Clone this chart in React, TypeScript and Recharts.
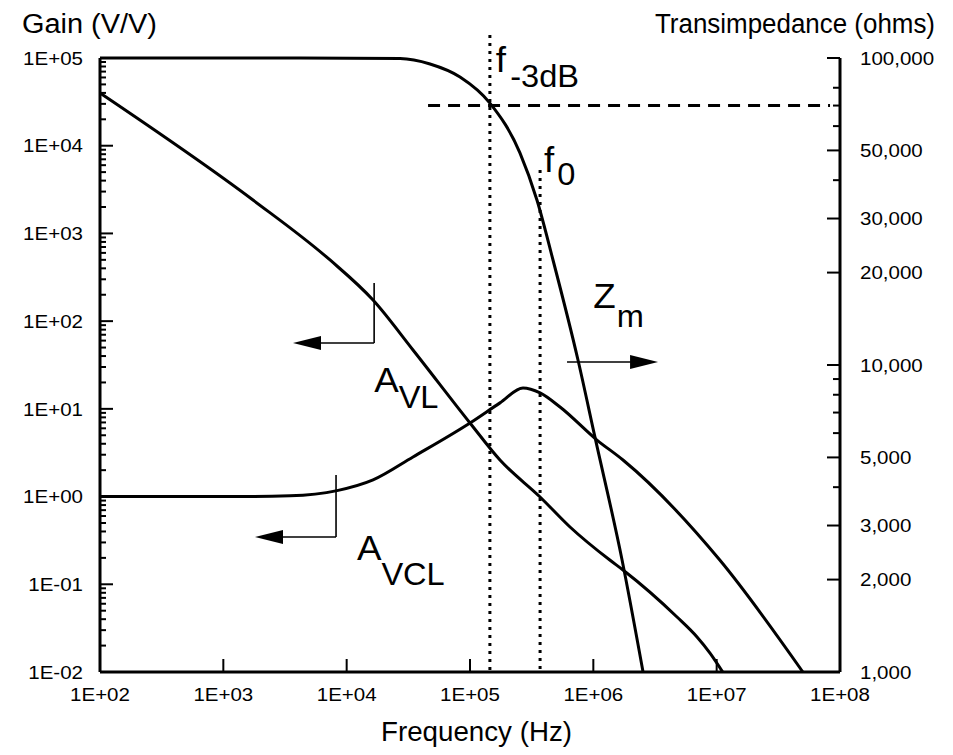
import React from 'react';
import { ComposedChart, Line, XAxis, YAxis, ReferenceLine, ReferenceDot } from 'recharts';

const FONT = '"Liberation Sans", Arial, Helvetica, sans-serif';
const SX = 1.08;
const TICK_FS = 19;

// ---- axis ticks ----
const xTicks = [1e2, 1e3, 1e4, 1e5, 1e6, 1e7, 1e8];
const xTickLabels = ['1E+02', '1E+03', '1E+04', '1E+05', '1E+06', '1E+07', '1E+08'];

const gainMajor = [1e-2, 1e-1, 1, 1e1, 1e2, 1e3, 1e4, 1e5];
const gainMajorLabels = ['1E-02', '1E-01', '1E+00', '1E+01', '1E+02', '1E+03', '1E+04', '1E+05'];
const minorMultipliers = [2, 3, 4, 5, 6, 7, 8, 9];
const gainMinor = gainMajor.slice(0, -1).flatMap((d) => minorMultipliers.map((m) => d * m));

const zMajor = [1000, 2000, 3000, 5000, 10000, 20000, 30000, 50000, 100000];
const zMajorLabels = ['1,000', '2,000', '3,000', '5,000', '10,000', '20,000', '30,000', '50,000', '100,000'];
const zMinor = [4000, 6000, 7000, 8000, 9000, 40000, 60000, 70000, 80000];

// ---- series ----
const avlFreq = [100, 1740, 7330, 16360, 34500, 1.0e5, 1.75e5, 3.7e5, 6.47e5, 1.36e6, 1.74e6, 4.77e6, 6.93e6, 8.83e6, 1.12e7];
const avlGain = [39900, 2404, 498, 174, 46.9, 6.9, 2.61, 0.99, 0.45, 0.189, 0.1456, 0.0424, 0.0251, 0.01644, 0.01];

const avclFreq = [100, 1365, 3470, 8360, 16370, 34500, 1.0e5, 1.75e5, 2.69e5, 3.7e5, 5.37e5, 1.07e6, 1.74e6, 1.06e7, 5.0e7];
const avclGain = [1.0, 1.0, 1.02, 1.17, 1.55, 2.83, 6.9, 11.7, 17.3, 15.2, 10.5, 4.41, 2.61, 0.189, 0.01];

const zmFreq = [100, 4190, 27100, 47400, 83000, 1.45e5, 2.54e5, 3.49e5, 4.71e5, 7.51e5, 1.03e6, 1.71e6, 2.53e6];
const zmOhms = [100000, 100000, 99600, 95600, 86700, 71300, 49100, 34470, 21980, 10380, 5830, 2317, 1000];

// ---- markers ----
const f3dB = 1.45e5;
const f0 = 3.7e5;
const halfPowerZ = 70000;

const toData = (fs: number[], vs: number[]) => fs.map((f, i) => ({ f, v: vs[i] }));
const avlData = toData(avlFreq, avlGain);
const avclData = toData(avclFreq, avclGain);
const zmData = toData(zmFreq, zmOhms);

const isIn = (arr: number[], v: number) => arr.findIndex((t) => Math.abs(Math.log10(t) - Math.log10(v)) < 1e-6);

const LeftTick = (props: any) => {
  const { x, y, payload } = props;
  const idx = isIn(gainMajor, payload.value);
  const major = idx >= 0;
  return (
    <g>
      <line x1={x} y1={y} x2={x + (major ? 13 : 6)} y2={y} stroke="#000" strokeWidth={2} />
      {major && (
        <text transform={`translate(${x - 17},${y}) scale(${SX},1)`} textAnchor="end" dominantBaseline="central" fontSize={TICK_FS} fontFamily={FONT} fill="#000">
          {gainMajorLabels[idx]}
        </text>
      )}
    </g>
  );
};

const RightTick = (props: any) => {
  const { x, y, payload } = props;
  const idx = isIn(zMajor, payload.value);
  const major = idx >= 0;
  return (
    <g>
      <line x1={x} y1={y} x2={x - (major ? 13 : 7)} y2={y} stroke="#000" strokeWidth={2} />
      {major && (
        <text transform={`translate(${x + 20},${y}) scale(${SX},1)`} textAnchor="start" dominantBaseline="central" fontSize={TICK_FS} fontFamily={FONT} fill="#000">
          {zMajorLabels[idx]}
        </text>
      )}
    </g>
  );
};

const BottomTick = (props: any) => {
  const { x, y, payload } = props;
  const idx = isIn(xTicks, payload.value);
  return (
    <g>
      <line x1={x} y1={y} x2={x} y2={y - 13} stroke="#000" strokeWidth={2} />
      <text transform={`translate(${x},${y + 29}) scale(${SX},1)`} textAnchor="middle" fontSize={TICK_FS} fontFamily={FONT} fill="#000">
        {xTickLabels[idx]}
      </text>
    </g>
  );
};

const makeLabel = (main: string, sub: string, subDx: number, subDy: number) => (props: any) => {
  const { cx, cy } = props;
  return (
    <text transform={`translate(${cx},${cy}) scale(1.05,1)`} fontSize={35} fontFamily={FONT} fill="#000">
      <tspan>{main}</tspan>
      <tspan dx={subDx} dy={subDy} fontSize={31}>{sub}</tspan>
    </text>
  );
};

const arrowHead = (dir: number) => (props: any) => {
  const { cx, cy } = props;
  const L = 28;
  const H = 7;
  return <polygon points={`${cx},${cy} ${cx - dir * L},${cy - H} ${cx - dir * L},${cy + H}`} fill="#000" />;
};

const arrowStroke = { stroke: '#000', strokeWidth: 1.6 };

export default function App() {
  return (
    <div style={{ position: 'absolute', left: 0, top: 0, width: 953, height: 755, background: '#fff' }}>
      <ComposedChart width={953} height={755} margin={{ top: 58, right: 0, bottom: 0, left: 0 }}>
        <XAxis
          dataKey="f"
          type="number"
          scale="log"
          domain={[100, 1e8]}
          ticks={xTicks}
          interval={0}
          height={83}
          tickSize={0}
          tickMargin={0}
          tickLine={false}
          axisLine={{ stroke: '#000', strokeWidth: 3 }}
          tick={<BottomTick />}
        />
        <YAxis
          yAxisId="left"
          orientation="left"
          type="number"
          scale="log"
          domain={[0.01, 1e5]}
          ticks={[...gainMajor, ...gainMinor]}
          interval={0}
          width={100}
          tickSize={0}
          tickMargin={0}
          tickLine={false}
          axisLine={{ stroke: '#000', strokeWidth: 3 }}
          tick={<LeftTick />}
        />
        <YAxis
          yAxisId="right"
          orientation="right"
          type="number"
          scale="log"
          domain={[1000, 100000]}
          ticks={[...zMajor, ...zMinor]}
          interval={0}
          width={113}
          tickSize={0}
          tickMargin={0}
          tickLine={false}
          axisLine={{ stroke: '#000', strokeWidth: 3 }}
          tick={<RightTick />}
        />

        {/* -3dB level and marker frequencies */}
        <ReferenceLine
          yAxisId="right"
          segment={[{ x: 45700, y: halfPowerZ }, { x: 8.3e7, y: halfPowerZ }]}
          stroke="#000"
          strokeWidth={3}
          strokeDasharray="12 8"
          ifOverflow="visible"
        />
        <ReferenceLine
          yAxisId="left"
          segment={[{ x: f3dB, y: 1.83e5 }, { x: f3dB, y: 0.01 }]}
          stroke="#000"
          strokeWidth={3}
          strokeDasharray="3 5"
          ifOverflow="visible"
        />
        <ReferenceLine
          yAxisId="left"
          segment={[{ x: f0, y: 5280 }, { x: f0, y: 0.01 }]}
          stroke="#000"
          strokeWidth={3}
          strokeDasharray="3 5"
          ifOverflow="visible"
        />

        <Line data={zmData} dataKey="v" yAxisId="right" type="monotone" stroke="#000" strokeWidth={3} dot={false} isAnimationActive={false} />
        <Line data={avlData} dataKey="v" yAxisId="left" type="monotone" stroke="#000" strokeWidth={3} dot={false} isAnimationActive={false} />
        <Line data={avclData} dataKey="v" yAxisId="left" type="monotone" stroke="#000" strokeWidth={3} dot={false} isAnimationActive={false} />

        {/* A_VL pointer */}
        <ReferenceLine yAxisId="left" segment={[{ x: 16700, y: 272 }, { x: 16700, y: 56.3 }]} {...arrowStroke} ifOverflow="visible" />
        <ReferenceLine yAxisId="left" segment={[{ x: 16700, y: 56.3 }, { x: 5000, y: 56.3 }]} {...arrowStroke} ifOverflow="visible" />
        <ReferenceDot yAxisId="left" x={3670} y={56.3} shape={arrowHead(-1)} ifOverflow="visible" />

        {/* A_VCL pointer */}
        <ReferenceLine yAxisId="left" segment={[{ x: 8200, y: 1.76 }, { x: 8200, y: 0.346 }]} {...arrowStroke} ifOverflow="visible" />
        <ReferenceLine yAxisId="left" segment={[{ x: 8200, y: 0.346 }, { x: 2500, y: 0.346 }]} {...arrowStroke} ifOverflow="visible" />
        <ReferenceDot yAxisId="left" x={1807} y={0.346} shape={arrowHead(-1)} ifOverflow="visible" />

        {/* Z_m pointer */}
        <ReferenceLine yAxisId="right" segment={[{ x: 6.12e5, y: 10230 }, { x: 2.5e6, y: 10230 }]} {...arrowStroke} ifOverflow="visible" />
        <ReferenceDot yAxisId="right" x={3.35e6} y={10230} shape={arrowHead(1)} ifOverflow="visible" />

        {/* labels */}
        <ReferenceDot yAxisId="left" x={1.62e5} y={69200} shape={makeLabel('f', '-3dB', 4, 15)} ifOverflow="visible" />
        <ReferenceDot yAxisId="left" x={3.98e5} y={5010} shape={makeLabel('f', '0', 3, 13)} ifOverflow="visible" />
        <ReferenceDot yAxisId="left" x={1.0e6} y={141} shape={makeLabel('Z', 'm', 1, 19)} ifOverflow="visible" />
        <ReferenceDot yAxisId="left" x={16700} y={15.6} shape={makeLabel('A', 'VL', 0, 16)} ifOverflow="visible" />
        <ReferenceDot yAxisId="left" x={12100} y={0.189} shape={makeLabel('A', 'VCL', 0, 25)} ifOverflow="visible" />
      </ComposedChart>
      <svg width={953} height={755} style={{ position: 'absolute', left: 0, top: 0, pointerEvents: 'none' }}>
        <text x={22} y={33} textLength={135} lengthAdjust="spacingAndGlyphs" fontSize={27} fontFamily={FONT} fill="#000">Gain (V/V)</text>
        <text x={655} y={33} textLength={280} lengthAdjust="spacingAndGlyphs" fontSize={27} fontFamily={FONT} fill="#000">Transimpedance (ohms)</text>
        <text x={381} y={741} textLength={191} lengthAdjust="spacingAndGlyphs" fontSize={27} fontFamily={FONT} fill="#000">Frequency (Hz)</text>
      </svg>
    </div>
  );
}
